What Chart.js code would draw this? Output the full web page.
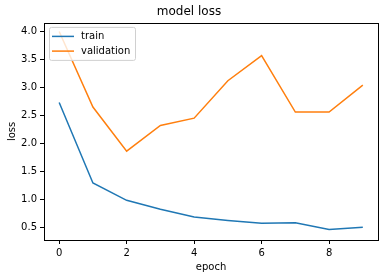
<!DOCTYPE html>
<html>
<head>
<meta charset="utf-8">
<script src="https://cdn.jsdelivr.net/npm/chart.js@4.4.1/dist/chart.umd.min.js"></script>
<style>
  html, body { margin: 0; padding: 0; background: #fff; }
  #wrap { width: 386px; height: 278px; }
</style>
</head>
<body>
<div id="wrap"><canvas id="lossChart" width="386" height="278"></canvas></div>
<script>
// Dades llegides de la gràfica
const epochs = [0, 1, 2, 3, 4, 5, 6, 7, 8, 9];
const trainLoss = [2.73, 1.29, 0.98, 0.82, 0.68, 0.62, 0.57, 0.58, 0.46, 0.50];
const validationLoss = [4.00, 2.65, 1.86, 2.32, 2.45, 3.12, 3.57, 2.56, 2.56, 3.04];
const xTicks = [0, 2, 4, 6, 8];
const yTicks = [0.5, 1.0, 1.5, 2.0, 2.5, 3.0, 3.5, 4.0];

const FONT = 'DejaVu Sans';

// Marc complet (spines) i llegenda dins l'àrea del gràfic
const framePlugin = {
    id: 'frame',
    afterDatasetsDraw(chart) {
        const { ctx, chartArea: a } = chart;
        ctx.save();
        ctx.strokeStyle = '#000';
        ctx.lineWidth = 1;
        ctx.strokeRect(Math.round(a.left) + 0.5, Math.round(a.top) + 0.5,
            Math.round(a.right - a.left), Math.round(a.bottom - a.top));

        // Llegenda a dalt a l'esquerra
        const x0 = a.left + 5, y0 = a.top + 4, w = 86, h = 33;
        ctx.fillStyle = 'rgba(255,255,255,0.8)';
        ctx.strokeStyle = '#d0d0d0';
        ctx.beginPath();
        ctx.roundRect(x0 + 0.5, y0 + 0.5, w, h, 2);
        ctx.fill();
        ctx.stroke();
        ctx.font = `10px "${FONT}"`;
        ctx.textBaseline = 'middle';
        chart.data.datasets.forEach((ds, i) => {
            const y = y0 + 9.5 + i * 14.7;
            ctx.strokeStyle = ds.borderColor;
            ctx.lineWidth = 1.5;
            ctx.beginPath();
            ctx.moveTo(x0 + 3, y);
            ctx.lineTo(x0 + 25, y);
            ctx.stroke();
            ctx.fillStyle = '#000';
            ctx.fillText(ds.label, x0 + 32, y);
        });
        ctx.restore();
    }
};

const ctx = document.getElementById('lossChart').getContext('2d');
const chart = new Chart(ctx, {
    type: 'line',
    data: {
        datasets: [{
            label: 'train',
            data: epochs.map((e, i) => ({ x: e, y: trainLoss[i] })),
            borderColor: '#1f77b4',
            borderWidth: 1.5,
            pointRadius: 0,
            tension: 0
        }, {
            label: 'validation',
            data: epochs.map((e, i) => ({ x: e, y: validationLoss[i] })),
            borderColor: '#ff7f0e',
            borderWidth: 1.5,
            pointRadius: 0,
            tension: 0
        }]
    },
    options: {
        responsive: false,
        animation: false,
        layout: { padding: { left: 0, right: 8, top: 0, bottom: 0 } },
        plugins: {
            legend: { display: false },
            tooltip: { enabled: false },
            title: {
                display: true,
                text: 'model loss',
                color: '#000',
                font: { family: FONT, size: 12, weight: 'normal' },
                padding: { top: 5, bottom: 3.5 }
            }
        },
        scales: {
            x: {
                type: 'linear',
                min: -0.45,
                max: 9.45,
                afterBuildTicks: (scale) => { scale.ticks = xTicks.map(v => ({ value: v })); },
                afterFit: (scale) => { scale.height = 38; },
                grid: { display: true, drawOnChartArea: false, drawTicks: true, tickLength: 4, color: '#000' },
                border: { display: false },
                ticks: { color: '#000', padding: 3, font: { family: FONT, size: 10 }, maxRotation: 0 },
                title: {
                    display: true,
                    text: 'epoch',
                    color: '#000',
                    font: { family: FONT, size: 10 },
                    padding: { top: 0, bottom: 5 }
                }
            },
            y: {
                min: 0.27,
                max: 4.155,
                afterBuildTicks: (scale) => { scale.ticks = yTicks.map(v => ({ value: v })); },
                afterFit: (scale) => { scale.width = 44; },
                grid: { display: true, drawOnChartArea: false, drawTicks: true, tickLength: 4, color: '#000' },
                border: { display: false },
                ticks: {
                    color: '#000',
                    padding: 3,
                    font: { family: FONT, size: 10 },
                    callback: (v) => v.toFixed(1)
                },
                title: {
                    display: true,
                    text: 'loss',
                    color: '#000',
                    font: { family: FONT, size: 10 },
                    padding: { top: 6, bottom: 0 }
                }
            }
        }
    },
    plugins: [framePlugin]
});
</script>
</body>
</html>
